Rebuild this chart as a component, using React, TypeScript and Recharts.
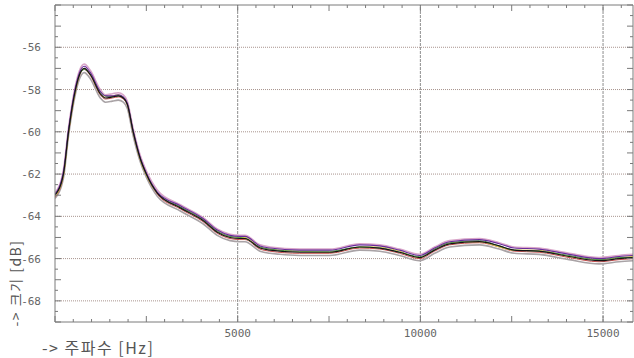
import React from "react";
import { LineChart, Line, XAxis, YAxis, ReferenceLine } from "recharts";

const freq = [0, 230, 370, 560, 670, 800, 970, 1240, 1380, 1570, 1730, 1870, 1980, 2140, 2330, 2500, 2800, 3430, 4050, 4440, 4790, 5060, 5200, 5610, 5880, 6700, 7520, 8340, 8890, 9430, 9980, 10390, 10800, 11620, 12160, 12570, 13250, 14070, 14890, 15440, 15820];

const pinkTop = [-62.9, -61.8, -59.8, -57.8, -57.1, -56.8, -57.1, -58.0, -58.25, -58.2, -58.15, -58.25, -58.55, -59.85, -61.1, -61.85, -62.75, -63.45, -64.05, -64.6, -64.85, -64.9, -64.9, -65.35, -65.45, -65.55, -65.55, -65.3, -65.35, -65.55, -65.8, -65.45, -65.15, -65.05, -65.25, -65.45, -65.5, -65.75, -65.95, -65.85, -65.8];
const purple = [-62.95, -61.9, -59.9, -57.9, -57.2, -56.9, -57.2, -58.1, -58.3, -58.3, -58.25, -58.35, -58.65, -59.95, -61.2, -61.95, -62.85, -63.5, -64.1, -64.65, -64.9, -64.95, -64.95, -65.4, -65.5, -65.6, -65.6, -65.35, -65.4, -65.6, -65.85, -65.5, -65.2, -65.1, -65.3, -65.5, -65.55, -65.8, -66.0, -65.9, -65.85];
const green = [-63.0, -62.0, -60.0, -58.0, -57.3, -57.05, -57.3, -58.1, -58.3, -58.35, -58.3, -58.4, -58.7, -60.0, -61.25, -62.0, -62.9, -63.55, -64.15, -64.7, -64.95, -65.0, -65.05, -65.45, -65.55, -65.65, -65.65, -65.45, -65.5, -65.7, -65.9, -65.55, -65.25, -65.15, -65.4, -65.6, -65.65, -65.85, -66.05, -65.95, -65.95];
const yellow = [-63.05, -62.05, -60.05, -58.05, -57.3, -57.0, -57.3, -58.2, -58.35, -58.3, -58.25, -58.4, -58.7, -60.0, -61.3, -62.05, -62.9, -63.55, -64.15, -64.7, -64.95, -65.0, -65.0, -65.45, -65.55, -65.65, -65.7, -65.45, -65.45, -65.65, -65.95, -65.55, -65.25, -65.2, -65.45, -65.6, -65.6, -65.9, -66.05, -65.95, -65.9];
const red = [-63.1, -62.1, -60.1, -58.1, -57.35, -57.05, -57.35, -58.25, -58.45, -58.4, -58.35, -58.45, -58.75, -60.05, -61.3, -62.05, -62.95, -63.65, -64.25, -64.8, -65.05, -65.1, -65.1, -65.55, -65.65, -65.75, -65.75, -65.5, -65.55, -65.75, -66.0, -65.65, -65.35, -65.25, -65.45, -65.65, -65.7, -65.95, -66.15, -66.05, -66.0];
const greyBottom = [-63.15, -62.2, -60.2, -58.2, -57.5, -57.2, -57.5, -58.4, -58.6, -58.55, -58.5, -58.6, -58.9, -60.2, -61.4, -62.15, -63.05, -63.75, -64.35, -64.9, -65.15, -65.2, -65.2, -65.65, -65.75, -65.85, -65.85, -65.6, -65.65, -65.85, -66.1, -65.75, -65.45, -65.35, -65.55, -65.75, -65.8, -66.05, -66.25, -66.15, -66.1];
const black = [-63.0, -62.0, -60.0, -58.0, -57.3, -57.0, -57.3, -58.2, -58.4, -58.35, -58.3, -58.4, -58.7, -60.0, -61.25, -62.0, -62.9, -63.6, -64.2, -64.75, -65.0, -65.05, -65.05, -65.5, -65.6, -65.7, -65.7, -65.45, -65.5, -65.7, -65.95, -65.6, -65.3, -65.2, -65.4, -65.6, -65.65, -65.9, -66.1, -66.0, -65.95];

const xGridValues = [5000, 10000, 15000];
const yGridValues = [-56, -58, -60, -62, -64, -66, -68];
const xMinorTicks = Array.from({ length: 32 }, (_, i) => i * 500);
const yMinorTicks = Array.from({ length: 31 }, (_, i) => -69 + i * 0.5);

const data = freq.map((f, i) => ({
  f,
  pinkTop: pinkTop[i],
  purple: purple[i],
  green: green[i],
  yellow: yellow[i],
  red: red[i],
  greyBottom: greyBottom[i],
  black: black[i],
}));

const series = [
  { key: "pinkTop", color: "#d9a6c9", w: 1.6 },
  { key: "greyBottom", color: "#a9a3a6", w: 1.6 },
  { key: "red", color: "#c85050", w: 1 },
  { key: "yellow", color: "#d8d040", w: 1 },
  { key: "green", color: "#4c9c4c", w: 1 },
  { key: "purple", color: "#6a2c9c", w: 1.1 },
  { key: "black", color: "#151515", w: 1.2 },
];

const TICK_FONT = "'DejaVu Sans Mono', monospace";
const AXIS = "#7a7a7a";

const BottomTick = (p: any) => {
  const v = p.payload.value;
  const len = v % 2500 === 0 ? 6 : 3;
  return (
    <g>
      <line x1={p.x} x2={p.x} y1={p.y} y2={p.y - len} stroke={AXIS} />
      {v > 0 && v % 5000 === 0 ? (
        <text x={p.x} y={p.y + 15} textAnchor="middle" fontFamily={TICK_FONT} fontSize={11} fill="#666">
          {v}
        </text>
      ) : null}
    </g>
  );
};

const TopTick = (p: any) => {
  const v = p.payload.value;
  const len = v % 2500 === 0 ? 6 : 3;
  return <line x1={p.x} x2={p.x} y1={p.y} y2={p.y + len} stroke={AXIS} />;
};

const LeftTick = (p: any) => {
  const v = p.payload.value;
  const len = Number.isInteger(v) ? 6 : 3;
  const show = Number.isInteger(v) && v % 2 === 0 && v <= -56 && v >= -68;
  return (
    <g>
      <line x1={p.x} x2={p.x + len} y1={p.y} y2={p.y} stroke={AXIS} />
      {show ? (
        <text x={p.x - 14} y={p.y + 4} textAnchor="end" fontFamily={TICK_FONT} fontSize={11} fill="#666">
          {v}
        </text>
      ) : null}
    </g>
  );
};

const RightTick = (p: any) => {
  const v = p.payload.value;
  const len = Number.isInteger(v) ? 6 : 3;
  return <line x1={p.x} x2={p.x - len} y1={p.y} y2={p.y} stroke={AXIS} />;
};

export default function App() {
  return (
    <div style={{ position: "absolute", left: 0, top: 0, width: 634, height: 358, background: "#fff" }}>
      <LineChart width={634} height={358} data={data} margin={{ top: 0, right: 0, bottom: 0, left: 0 }}>
        <XAxis
          xAxisId="b"
          dataKey="f"
          type="number"
          domain={[0, 15820]}
          allowDataOverflow
          ticks={xMinorTicks}
          interval={0}
          height={36}
          tickSize={0}
          tickMargin={0}
          tick={BottomTick}
          tickLine={false}
          axisLine={{ stroke: AXIS }}
        />
        <XAxis
          xAxisId="t"
          orientation="top"
          dataKey="f"
          type="number"
          domain={[0, 15820]}
          allowDataOverflow
          ticks={xMinorTicks}
          interval={0}
          height={5}
          tickSize={0}
          tickMargin={0}
          tick={TopTick}
          tickLine={false}
          axisLine={{ stroke: AXIS }}
        />
        <YAxis
          yAxisId="l"
          type="number"
          domain={[-69, -54]}
          allowDataOverflow
          ticks={yMinorTicks}
          interval={0}
          width={55}
          tickSize={0}
          tickMargin={0}
          tick={LeftTick}
          tickLine={false}
          axisLine={{ stroke: AXIS }}
        />
        <YAxis
          yAxisId="r"
          orientation="right"
          type="number"
          domain={[-69, -54]}
          allowDataOverflow
          ticks={yMinorTicks}
          interval={0}
          width={1}
          tickSize={0}
          tickMargin={0}
          tick={RightTick}
          tickLine={false}
          axisLine={{ stroke: AXIS }}
        />
        {yGridValues.map((v) => (
          <ReferenceLine key={"h" + v} xAxisId="b" yAxisId="l" y={v} stroke="#a8948e" strokeDasharray="1 1" strokeWidth={1} />
        ))}
        {xGridValues.map((v) => (
          <ReferenceLine key={"v" + v} xAxisId="b" yAxisId="l" x={v} stroke="#8e8e8e" strokeDasharray="3 1" strokeWidth={1} />
        ))}
        {series.map((s) => (
          <Line
            key={s.key}
            xAxisId="b"
            yAxisId="l"
            dataKey={s.key}
            type="monotone"
            stroke={s.color}
            strokeWidth={s.w}
            dot={false}
            isAnimationActive={false}
          />
        ))}
      </LineChart>
      <div
        style={{
          position: "absolute",
          left: 15,
          top: 283,
          transform: "translate(-50%, -50%) rotate(-90deg)",
          whiteSpace: "nowrap",
          fontFamily: "'Noto Sans CJK KR', sans-serif",
          fontSize: 14,
          letterSpacing: 1.5,
          color: "#555",
        }}
      >
        -&gt; 크기 [dB]
      </div>
      <div
        style={{
          position: "absolute",
          left: 42,
          top: 337,
          whiteSpace: "nowrap",
          fontFamily: "'Noto Sans CJK KR', sans-serif",
          fontSize: 16,
          letterSpacing: 1.5,
          lineHeight: "20px",
          color: "#555",
        }}
      >
        -&gt; 주파수 [Hz]
      </div>
    </div>
  );
}
